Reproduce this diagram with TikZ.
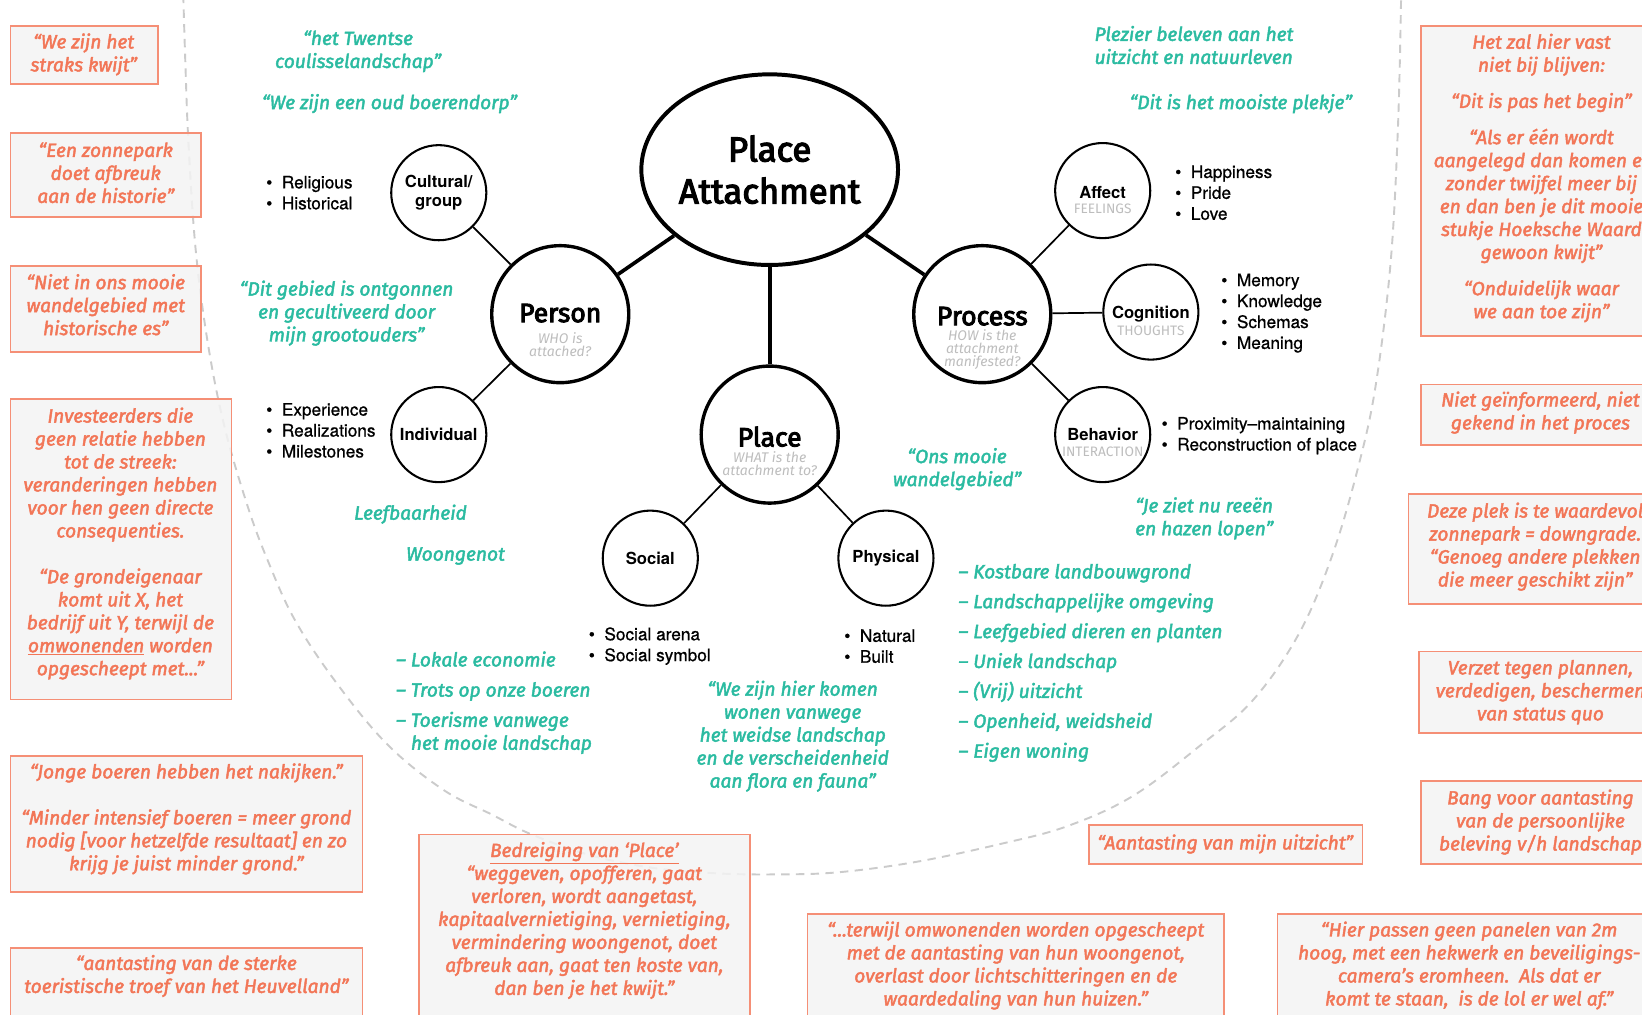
\documentclass[tikz,border=0pt]{standalone}
\usepackage{fontspec}
\setmainfont{Fira Sans}
\newfontfamily\quotefont{Fira Sans}[FakeBold=2.3]
\newfontfamily\titlefont{Fira Sans}[FakeBold=3.5]
\newfontfamily\listfont{TeX Gyre Heros}[FakeBold=0.8]
\newfontfamily\labelfont{TeX Gyre Heros}
\usepackage{xcolor}
\usetikzlibrary{positioning}
\usetikzlibrary{shapes.geometric}
\definecolor{quoteteal}{HTML}{2BBBA1}
\definecolor{threattext}{HTML}{F27657}
\definecolor{threatline}{HTML}{F58F76}
\definecolor{threatfill}{HTML}{F3F3F3}
\definecolor{subgrey}{HTML}{BDBDBD}
\definecolor{arcgrey}{HTML}{CBCBCB}

\begin{document}
\begin{tikzpicture}[x=0.025cm,y=-0.025cm,
  core/.style={ellipse,draw,line width=2.7pt,minimum width=5.75cm,minimum height=4.55cm,inner sep=0pt,align=center,font=\titlefont\fontsize{23.5}{28.5}\selectfont},
  dim/.style={circle,draw,line width=2.3pt,minimum size=3.27cm,inner sep=0pt},
  facet/.style={circle,draw,line width=1.4pt,minimum size=2.27cm,inner sep=0pt,align=center,font=\labelfont\bfseries\fontsize{11.3}{13.5}\selectfont},
  dimtitle/.style={inner sep=0pt,font=\titlefont\fontsize{18}{20}\selectfont},
  dimsub/.style={text=subgrey,align=center,inner sep=0pt,font=\itshape\fontsize{9.5}{8.7}\selectfont},
  facettitle/.style={inner sep=0pt,font=\labelfont\bfseries\fontsize{11.3}{13.5}\selectfont},
  facetsub/.style={text=subgrey,inner sep=0pt,font=\fontsize{9.3}{10}\selectfont},
  mainlink/.style={line width=2.5pt},
  facetlink/.style={line width=1.15pt},
  bullets/.style={anchor=west,align=left,inner sep=0pt,font=\listfont\fontsize{11.7}{14.2}\selectfont},
  voice/.style={text=quoteteal,align=center,inner sep=0pt,font=\quotefont\itshape\fontsize{13}{15.6}\selectfont},
  threatframe/.style={draw=threatline,fill=threatfill,fill opacity=0.85,line width=1.1pt},
  threat/.style={text=threattext,align=center,inner sep=0pt,font=\quotefont\itshape\fontsize{13}{15.6}\selectfont}
]
\useasboundingbox (0,0) rectangle (1568,969);

% dashed boundary
\draw[arcgrey, line width=1.3pt, dash pattern=on 5.7pt off 4.3pt] plot [smooth, tension=0.6] coordinates {(175,-5)(177,60)(180,137)(187,240)(199,331)(215,410)(237,485)(256,536)(281,591)(319,649)(369,710)(423,754)(470,778)(508,797)(565,817)(625,829)(685,834)(740,835)(800,833)(875,823)(955,806)(1019,789)(1082,760)(1146,712)(1197,668)(1241,604)(1273,528)(1298,442)(1314,366)(1328,250)(1335,120)(1338,-5)};

% threat frames
\draw[threatframe] (10,25) rectangle (151,80);
\draw[threatframe] (10,127) rectangle (192,207);
\draw[threatframe] (10,254) rectangle (192,336);
\draw[threatframe] (10,381) rectangle (221,668);
\draw[threatframe] (10,722) rectangle (346,852);
\draw[threatframe] (10,905) rectangle (346,990);
\draw[threatframe] (400,797) rectangle (716,990);
\draw[threatframe] (1040,788) rectangle (1301,825);
\draw[threatframe] (771,873) rectangle (1169,990);
\draw[threatframe] (1220,873) rectangle (1600,990);
\draw[threatframe] (1357,25) rectangle (1600,321);
\draw[threatframe] (1357,367) rectangle (1600,425);
\draw[threatframe] (1345,472) rectangle (1600,577);
\draw[threatframe] (1355,622) rectangle (1600,700);
\draw[threatframe] (1357,746) rectangle (1600,825);

% model
\node[core] (attach) at (735,162) {Place\\Attachment};
\node[dim] (person) at (535,300) {};
\node[dim] (process) at (938,300) {};
\node[dim] (place) at (735,415) {};

\node[facet] (cultural) at (419,184) {Cultural/\\group};
\node[facet] (individual) at (419,415) {Individual};
\node[facet] (affect) at (1053,182) {};
\node[facet] (cognition) at (1099,298) {};
\node[facet] (behavior) at (1053,415) {};
\node[facet] (social) at (621,533) {Social};
\node[facet] (physical) at (846,533) {Physical};

\draw[mainlink] (attach) -- (person);
\draw[mainlink] (attach) -- (process);
\draw[mainlink] (attach) -- (place);
\draw[facetlink] (person) -- (cultural);
\draw[facetlink] (person) -- (individual);
\draw[facetlink] (process) -- (affect);
\draw[facetlink] (process) -- (cognition);
\draw[facetlink] (process) -- (behavior);
\draw[facetlink] (place) -- (social);
\draw[facetlink] (place) -- (physical);

\node (persontitle) at (535,299) [dimtitle]{Person};
\node (personsub) at (535,329) [dimsub]{WHO is\\attached?};
\node (processtitle) at (938,302) [dimtitle]{Process};
\node (processsub) at (938,334) [dimsub]{HOW is the\\attachment\\manifested?};
\node (placetitle) at (735,417) [dimtitle]{Place};
\node (placesub) at (735,443) [dimsub]{WHAT is the\\attachment to?};
\node (affecttitle) at (1053,184) [facettitle]{Affect};
\node (affectsub) at (1053,199) [facetsub]{FEELINGS};
\node (cognitiontitle) at (1099,300) [facettitle]{Cognition};
\node (cognitionsub) at (1099,316) [facetsub]{THOUGHTS};
\node (behaviortitle) at (1053,415) [facettitle]{Behavior};
\node (behaviorsub) at (1053,431) [facetsub]{INTERACTION};

% bullet lists
\node (culturallist) at (254,184) [bullets]{\textbullet\hspace{6.5pt}Religious\\\textbullet\hspace{6.5pt}Historical};
\node (individuallist) at (254,411) [bullets]{\textbullet\hspace{6.5pt}Experience\\\textbullet\hspace{6.5pt}Realizations\\\textbullet\hspace{6.5pt}Milestones};
\node (affectlist) at (1122,184) [bullets]{\textbullet\hspace{6.5pt}Happiness\\\textbullet\hspace{6.5pt}Pride\\\textbullet\hspace{6.5pt}Love};
\node (cognitionlist) at (1166,299) [bullets]{\textbullet\hspace{6.5pt}Memory\\\textbullet\hspace{6.5pt}Knowledge\\\textbullet\hspace{6.5pt}Schemas\\\textbullet\hspace{6.5pt}Meaning};
\node (behaviorlist) at (1109,416) [bullets]{\textbullet\hspace{6.5pt}Proximity–maintaining\\\textbullet\hspace{6.5pt}Reconstruction of place};
\node (sociallist) at (562,617) [bullets]{\textbullet\hspace{6.5pt}Social arena\\\textbullet\hspace{6.5pt}Social symbol};
\node (physicallist) at (806,617) [bullets]{\textbullet\hspace{6.5pt}Natural\\\textbullet\hspace{6.5pt}Built};

%teal
\node (twentse) at (342,49) [voice]{“het Twentse\\coulisselandschap”};
\node (boerendorp) at (372,99) [voice]{“We zijn een oud boerendorp”};
\node (ontgonnen) at (331,299) [voice]{“Dit gebied is ontgonnen\\en gecultiveerd door\\mijn grootouders”};
\node (leefbaarheid) at (392,491) [voice]{Leefbaarheid};
\node (woongenot) at (435,531) [voice]{Woongenot};
\node (economie) at (378,671) [voice,anchor=west,align=left]{– Lokale economie\\[4.9pt]– Trots op onze boeren\\[4.9pt]– Toerisme vanwege\\\phantom{– }het mooie landschap};
\node (weids) at (757,703) [voice]{“We zijn hier komen\\wonen vanwege\\het weidse landschap\\en de verscheidenheid\\aan flora en fauna”};
\node (wandel) at (914,448) [voice]{“Ons mooie\\wandelgebied”};
\node (reeen) at (1150,495) [voice]{“Je ziet nu reeën\\en hazen lopen”};
\node (landbouw) at (915,633) [voice,anchor=west,align=left,font=\quotefont\itshape\fontsize{13}{20.3}\selectfont]{– Kostbare landbouwgrond\\– Landschappelijke omgeving\\– Leefgebied dieren en planten\\– Uniek landschap\\– (Vrij) uitzicht\\– Openheid, weidsheid\\– Eigen woning};
\node (plezier) at (1045,43) [voice,anchor=west,align=left]{Plezier beleven aan het\\uitzicht en natuurleven};
\node (plekje) at (1185,99) [voice]{“Dit is het mooiste plekje”};

% threats
\node (kwijt) at (80,52) [threat]{“We zijn het\\straks kwijt”};
\node (historie) at (101,165) [threat]{“Een zonnepark\\doet afbreuk\\aan de historie”};
\node (es) at (101,291) [threat]{“Niet in ons mooie\\wandelgebied met\\historische es”};
\node (investeerders) at (115,519) [threat]{Investeerders die\\geen relatie hebben\\tot de streek:\\veranderingen hebben\\voor hen geen directe\\consequenties.\\[15.6pt]“De grondeigenaar\\komt uit X, het\\bedrijf uit Y, terwijl de\\\underline{omwonenden} worden\\opgescheept met...”};
\node (boeren) at (178,782) [threat]{“Jonge boeren hebben het nakijken.”\\[15.6pt]“Minder intensief boeren = meer grond\\nodig [voor hetzelfde resultaat] en zo\\krijg je juist minder grond.”};
\node (heuvelland) at (178,932) [threat]{“aantasting van de sterke\\toeristische troef van het Heuvelland”};
\node (bedreiging) at (558,879) [threat]{\underline{Bedreiging van ‘Place’}\\“weggeven, opofferen, gaat\\verloren, wordt aangetast,\\kapitaalvernietiging, vernietiging,\\vermindering woongenot, doet\\afbreuk aan, gaat ten koste van,\\dan ben je het kwijt.”};
\node (uitzicht) at (1170,806) [threat]{“Aantasting van mijn uitzicht”};
\node (omwonenden) at (970,922) [threat]{“...terwijl omwonenden worden opgescheept\\met de aantasting van hun woongenot,\\overlast door lichtschitteringen en de\\waardedaling van hun huizen.”};
\node (panelen) at (1403,922) [threat]{“Hier passen geen panelen van 2m\\hoog, met een hekwerk en beveiligings-\\camera’s eromheen.\ \ Als dat er\\komt te staan,\ \ is de lol er wel af.”};
\node (begin) at (1472,170) [threat]{Het zal hier vast\\niet bij blijven:\\[9pt]“Dit is pas het begin”\\[9pt]“Als er één wordt\\aangelegd dan komen er\\zonder twijfel meer bij\\en dan ben je dit mooie\\stukje Hoeksche Waard\\gewoon kwijt”\\[9pt]“Onduidelijk waar\\we aan toe zijn”};
\node (proces) at (1471,394) [threat]{Niet geïnformeerd, niet\\gekend in het proces};
\node (waardevol) at (1466,522) [threat]{Deze plek is te waardevol\\zonnepark = downgrade.\\“Genoeg andere plekken\\die meer geschikt zijn”};
\node (verzet) at (1471,661) [threat]{Verzet tegen plannen,\\verdedigen, beschermen\\van status quo};
\node (beleving) at (1471,785) [threat]{Bang voor aantasting\\van de persoonlijke\\beleving v/h landschap};

\end{tikzpicture}
\end{document}
